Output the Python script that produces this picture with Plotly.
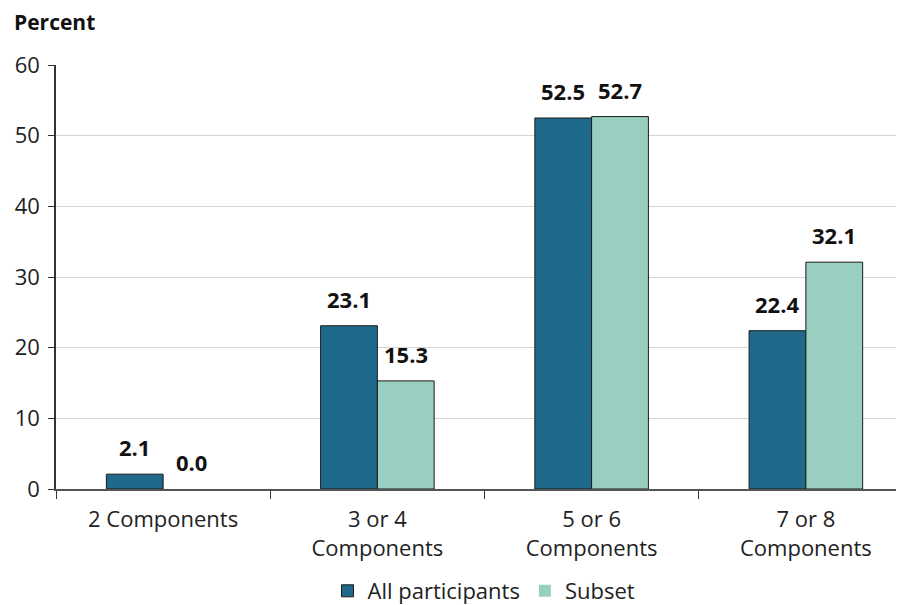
import plotly.graph_objects as go

categories = ["2 Components", "3 or 4<br>Components", "5 or 6<br>Components", "7 or 8<br>Components"]
all_participants = [2.1, 23.1, 52.5, 22.4]
subset = [0.0, 15.3, 52.7, 32.1]
series_names = ["All participants", "Subset"]
colors = ["#1f6a8a", "#98cfc0"]
y_ticks = [0, 10, 20, 30, 40, 50, 60]

FONT = "Open Sans"
OFF = 8  # page body margin
W, H = 904 - OFF, 605 - OFF
L, R, T, B = 56 - OFF, 0, 65 - OFF, 116
PW, PH = W - L - R, H - T - B

fig = go.Figure()
for name, vals, col in zip(series_names, [all_participants, subset], colors):
    fig.add_trace(go.Bar(
        x=categories, y=vals, name=name,
        marker=dict(color=col, line=dict(color="#1a1a1a",
                                         width=[1 if v > 0 else 0 for v in vals])),
    ))

# value labels above bars
for i, vals in enumerate([all_participants, subset]):
    shift = -28.5 if i == 0 else 28.5
    for c, v in zip(categories, vals):
        fig.add_annotation(x=c, y=v, xref="x", yref="y", text=f"<b>{v:.1f}</b>",
                           showarrow=False, xshift=shift, yshift=27,
                           font=dict(family=FONT, size=22, color="#111"))

fig.add_annotation(x=(12 - OFF - L) / PW, y=1 + (T - (22 - OFF)) / PH, xref="paper", yref="paper",
                   text="<b>Percent</b>", showarrow=False, xanchor="left", yanchor="middle",
                   font=dict(family=FONT, size=21, color="#111"))

fig.update_layout(
    width=W, height=H,
    margin=dict(l=L, r=R, t=T, b=B, autoexpand=False),
    paper_bgcolor="white", plot_bgcolor="white",
    barmode="group", bargap=0.47, bargroupgap=0,
    font=dict(family=FONT, size=22, color="#222"),
    legend=dict(orientation="h", x=(484 - 56) / PW, xanchor="center",
                y=-(591 - 489) / PH, yanchor="middle",
                font=dict(size=22), traceorder="normal"),
    showlegend=True,
)
fig.update_xaxes(
    range=[-0.5, 3.458], tickson="boundaries", ticks="outside", ticklen=8,
    tickcolor="#333", showline=True, linecolor="#555", linewidth=1.5,
    showgrid=False, tickfont=dict(size=22), automargin=False, ticklabelstandoff=10,
)
fig.update_yaxes(
    range=[0, 60], tickvals=y_ticks, ticks="outside", ticklen=6, tickcolor="#333",
    showline=True, linecolor="#333", linewidth=1.5,
    showgrid=True, gridcolor="#d3d3d3", gridwidth=1.2, zeroline=False,
    tickfont=dict(size=22), automargin=False, ticklabelstandoff=4,
)
fig.write_html("out.html")
